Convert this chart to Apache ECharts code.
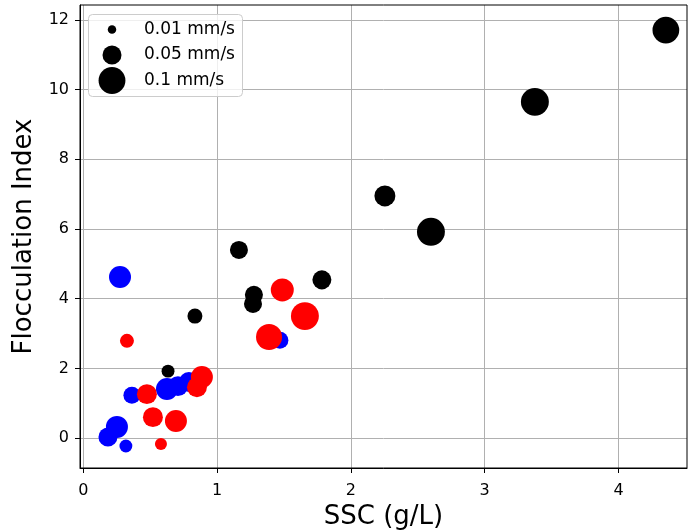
<!DOCTYPE html>
<html>
<head>
<meta charset="utf-8">
<script src="https://cdn.jsdelivr.net/npm/echarts@6/dist/echarts.min.js"></script>
<style>html,body{margin:0;padding:0;background:#fff}#c{width:688px;height:531px}</style>
</head>
<body>
<div id="c"></div>
<script>
// SSC (g/L), Flocculation Index, settling velocity (mm/s)
const sscBlack = [4.354, 3.375, 2.598, 2.254, 1.163, 1.783, 1.275, 1.268, 0.834, 0.633];
const fiBlack  = [11.71, 9.65, 5.92, 6.95, 5.40, 4.54, 4.11, 3.85, 3.50, 1.92];
const wsBlack  = [0.099, 0.108, 0.108, 0.061, 0.045, 0.050, 0.045, 0.045, 0.031, 0.023];

const sscBlue = [0.274, 1.469, 0.251, 0.184, 0.318, 0.363, 0.625, 0.707, 0.789];
const fiBlue  = [4.62, 2.81, 0.32, 0.03, -0.23, 1.23, 1.41, 1.49, 1.61];
const wsBlue  = [0.067, 0.040, 0.067, 0.050, 0.023, 0.040, 0.067, 0.055, 0.055];

const sscRed = [0.326, 1.487, 1.656, 1.388, 0.475, 0.520, 0.692, 0.580, 0.886, 0.849];
const fiRed  = [2.79, 4.25, 3.50, 2.90, 1.26, 0.60, 0.49, -0.17, 1.75, 1.46];
const wsRed  = [0.027, 0.073, 0.108, 0.094, 0.055, 0.055, 0.067, 0.020, 0.067, 0.055];

const legendWs = [0.01, 0.05, 0.1];
const legendNames = ['0.01 mm/s', '0.05 mm/s', '0.1 mm/s'];

const xTicks = [0, 1, 2, 3, 4];
const yTicks = [0, 2, 4, 6, 8, 10, 12];

const SIZE_K = 85;
const size = v => SIZE_K * Math.sqrt(v);
const FONT = 'DejaVu Sans';

function pts(xs, ys, ws) { return xs.map((x, i) => [x, ys[i], ws[i]]); }

const groups = [
  { name: 'black', color: '#000000', data: pts(sscBlack, fiBlack, wsBlack) },
  { name: 'blue', color: '#0000ff', data: pts(sscBlue, fiBlue, wsBlue) },
  { name: 'red', color: '#ff0000', data: pts(sscRed, fiRed, wsRed) }
];

const series = groups.map(g => ({
  type: 'scatter', name: g.name, data: g.data,
  symbol: 'circle', symbolSize: v => size(v[2]),
  itemStyle: { color: g.color, opacity: 1 },
  emphasis: { disabled: true }, animation: false
}));

// legend (size key) drawn as graphic elements, sizes derived from legendWs
const legendCenters = [29.5, 55, 80.5];
const legendGraphic = [{
  type: 'rect', z: 9, left: 88, top: 14,
  shape: { width: 154, height: 82, r: 4 },
  style: { fill: 'rgba(255,255,255,0.8)', stroke: '#cccccc', lineWidth: 1 }
}];
legendWs.forEach((v, i) => {
  legendGraphic.push({
    type: 'circle', z: 10,
    shape: { cx: 112, cy: legendCenters[i], r: size(v) / 2 },
    style: { fill: '#000' }
  });
  legendGraphic.push({
    type: 'text', z: 10, x: 144, y: legendCenters[i],
    style: { text: legendNames[i], fill: '#000', font: '17px "DejaVu Sans"', verticalAlign: 'middle', align: 'left' }
  });
});

const chart = echarts.init(document.getElementById('c'), null, { renderer: 'canvas' });
chart.setOption({
  animation: false,
  backgroundColor: '#fff',
  grid: { left: 80, top: 5, right: 1, height: 463, outerBoundsMode: 'none', containLabel: false,
          show: true, borderColor: '#000', borderWidth: 1, backgroundColor: 'transparent', z: 3 },
  xAxis: {
    type: 'value', min: -0.025, max: 4.512,
    name: 'SSC (g/L)', nameLocation: 'middle', nameGap: 34,
    nameTextStyle: { fontSize: 26, fontFamily: FONT, color: '#000' },
    axisLine: { show: true, onZero: false, lineStyle: { color: '#000', width: 1 } },
    axisTick: { show: true, length: 5, lineStyle: { color: '#000' }, customValues: xTicks },
    axisLabel: { fontSize: 16, fontFamily: FONT, color: '#000', margin: 15, customValues: xTicks, formatter: v => String(v) },
    splitLine: { show: true, lineStyle: { color: '#b0b0b0', width: 1 } }
  },
  yAxis: {
    type: 'value', min: -0.86, max: 12.43,
    name: 'Flocculation Index', nameLocation: 'middle', nameGap: 38,
    nameTextStyle: { fontSize: 26, fontFamily: FONT, color: '#000' },
    axisLine: { show: true, onZero: false, lineStyle: { color: '#000', width: 1 } },
    axisTick: { show: true, length: 5, lineStyle: { color: '#000' }, customValues: yTicks },
    axisLabel: { fontSize: 16, fontFamily: FONT, color: '#000', margin: 11, customValues: yTicks, formatter: v => String(v) },
    splitLine: { show: true, lineStyle: { color: '#b0b0b0', width: 1 } }
  },
  graphic: legendGraphic,
  series: series
});
</script>
</body>
</html>
